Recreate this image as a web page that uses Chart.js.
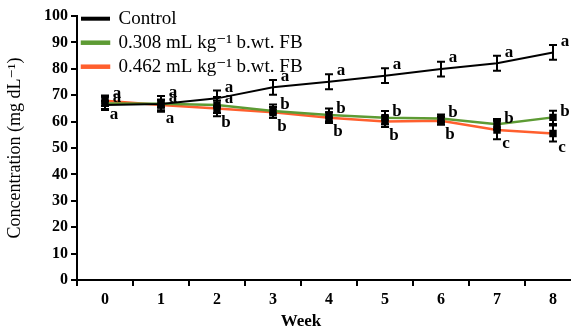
<!DOCTYPE html>
<html>
<head>
<meta charset="utf-8">
<script src="https://cdn.jsdelivr.net/npm/chart.js@4.4.1/dist/chart.umd.min.js"></script>
<style>
body { margin: 0; background: #fff; overflow: hidden; }
#wrap { width: 590px; height: 335px; }
</style>
</head>
<body>
<div id="wrap"><canvas id="chart" width="590" height="335"></canvas></div>
<script>
// Datos
const weeks = ['0', '1', '2', '3', '4', '5', '6', '7', '8'];

const control = [66.3, 66.7, 68.8, 73.0, 75.1, 77.4, 79.9, 82.1, 86.2];
const controlErr = [1.5, 3.0, 3.0, 2.8, 2.8, 2.8, 2.8, 2.8, 2.8];
const controlLetters = ['a', 'a', 'a', 'a', 'a', 'a', 'a', 'a', 'a'];

const low = [66.9, 66.8, 66.3, 64.0, 62.5, 61.5, 61.2, 59.0, 61.6];
const lowErr = [2.5, 1.5, 3.0, 2.5, 2.5, 2.5, 1.5, 2.0, 2.5];
const lowLetters = ['a', 'a', 'a', 'b', 'b', 'b', 'b', 'b', 'b'];

const high = [67.9, 66.3, 65.0, 63.5, 61.5, 60.0, 60.3, 56.8, 55.5];
const highErr = [2.0, 2.0, 3.0, 2.0, 2.0, 2.0, 1.5, 3.5, 3.0];
const highLetters = ['a', 'a', 'b', 'b', 'b', 'b', 'b', 'c', 'c'];

const yTicks = [0, 10, 20, 30, 40, 50, 60, 70, 80, 90, 100];

const serif = "'Liberation Serif', 'DejaVu Serif', serif";

// Barras de error y letras
const extrasPlugin = {
    id: 'extras',
    afterDatasetsDraw(chart) {
        const ctx = chart.ctx;
        const x = chart.scales.x;
        const y = chart.scales.y;
        const offsets = [[12, -11], [12, -6], [9, 14]];
        chart.data.datasets.forEach((ds, i) => {
            ctx.save();
            ctx.strokeStyle = '#000';
            ctx.lineWidth = 2;
            ds.data.forEach((v, j) => {
                const px = x.getPixelForValue(j);
                const top = y.getPixelForValue(v + ds.errors[j]);
                const bot = y.getPixelForValue(v - ds.errors[j]);
                ctx.beginPath();
                ctx.moveTo(px, top); ctx.lineTo(px, bot);
                ctx.moveTo(px - 4, top); ctx.lineTo(px + 4, top);
                ctx.moveTo(px - 4, bot); ctx.lineTo(px + 4, bot);
                ctx.stroke();
            });
            ctx.fillStyle = '#000';
            ctx.font = 'bold 17px ' + serif;
            ctx.textAlign = 'center';
            ctx.textBaseline = 'middle';
            ds.data.forEach((v, j) => {
                const px = x.getPixelForValue(j);
                const py = y.getPixelForValue(v);
                ctx.fillText(ds.letters[j], px + offsets[i][0], py + offsets[i][1]);
            });
            ctx.restore();
        });
        // titulo del eje x
        ctx.save();
        ctx.fillStyle = '#000';
        ctx.font = 'bold 17px ' + serif;
        ctx.textAlign = 'center';
        ctx.textBaseline = 'middle';
        ctx.fillText('Week', (x.getPixelForValue(3) + x.getPixelForValue(4)) / 2, 322);
        ctx.restore();
    }
};

const ctx = document.getElementById('chart').getContext('2d');
new Chart(ctx, {
    type: 'line',
    data: {
        labels: weeks,
        datasets: [{
            label: 'Control',
            data: control,
            errors: controlErr,
            letters: controlLetters,
            borderColor: '#000',
            backgroundColor: '#000',
            borderWidth: 2,
            pointRadius: 0
        }, {
            label: '0.308 mL kg⁻¹ b.wt. FB',
            data: low,
            errors: lowErr,
            letters: lowLetters,
            borderColor: '#5d9b34',
            backgroundColor: '#5d9b34',
            borderWidth: 2.5,
            pointStyle: 'rect',
            pointRadius: 3.5,
            pointBackgroundColor: '#000',
            pointBorderColor: '#000'
        }, {
            label: '0.462 mL kg⁻¹ b.wt. FB',
            data: high,
            errors: highErr,
            letters: highLetters,
            borderColor: '#ff5f2e',
            backgroundColor: '#ff5f2e',
            borderWidth: 2.5,
            pointStyle: 'rect',
            pointRadius: 3.5,
            pointBackgroundColor: '#000',
            pointBorderColor: '#000'
        }]
    },
    options: {
        responsive: false,
        animation: false,
        layout: { padding: { top: 16, right: 9, left: 0, bottom: 0 } },
        plugins: {
            legend: {
                position: 'chartArea',
                align: 'start',
                title: { display: true, text: ' ', font: { size: 1 }, padding: { top: 0, bottom: 3 } },
                labels: {
                    color: '#000',
                    font: { family: serif, size: 19 },
                    boxWidth: 27,
                    boxHeight: 2,
                    padding: 5
                }
            },
            tooltip: { enabled: false }
        },
        scales: {
            x: {
                offset: true,
                grid: { offset: true, drawOnChartArea: false, color: '#000', lineWidth: 2, tickLength: 6 },
                border: { color: '#000', width: 2 },
                ticks: { color: '#000', font: { family: serif, size: 16, weight: 'bold' }, padding: 4, maxRotation: 0 },
                afterFit(scale) { scale.height = 55; }
            },
            y: {
                min: 0,
                max: 100,
                afterBuildTicks(scale) { scale.ticks = yTicks.map(v => ({ value: v })); },
                grid: { drawOnChartArea: false, color: '#000', lineWidth: 2, tickLength: 6 },
                border: { color: '#000', width: 2 },
                ticks: { color: '#000', font: { family: serif, size: 16, weight: 'bold' }, padding: 3 },
                title: {
                    display: true,
                    text: 'Concentration (mg dL⁻¹)',
                    color: '#000',
                    font: { family: serif, size: 18 },
                    padding: 4
                },
                afterFit(scale) { scale.width = 77; }
            }
        }
    },
    plugins: [extrasPlugin]
});
</script>
</body>
</html>
